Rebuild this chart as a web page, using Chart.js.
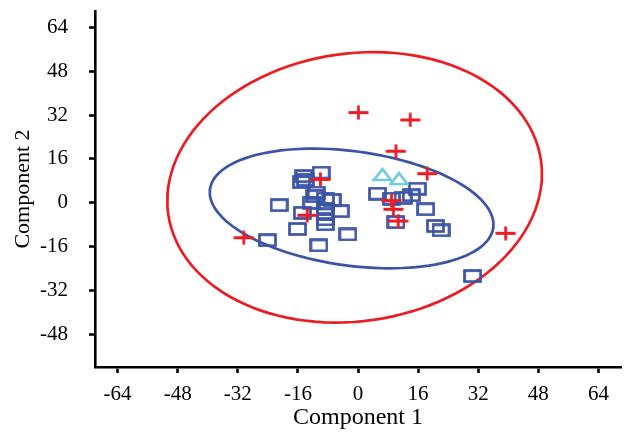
<!DOCTYPE html>
<html>
<head>
<meta charset="utf-8">
<script src="https://cdn.jsdelivr.net/npm/chart.js@4.4.1/dist/chart.umd.min.js"></script>
<style>
  html, body { margin: 0; padding: 0; background: #fff; }
  #wrap { width: 626px; height: 433px; }
</style>
</head>
<body>
<div id="wrap"><canvas id="pcaChart"></canvas></div>
<script>
// Group 1 (blue squares)
const squareX = [-9.8, -14.4, -15, -14, -21, -11.5, -11.1, -8.7, -6.9, -12.3, -4.7, -14.8, -8.7, -8.7, -8.7, -8.7,
                 -16.1, -2.7, -10.4, -24.1, 5.2, 8.9, 12, 14.2, 15.8, 18, 10.1, 20.6, 22.1, 30.5];
const squareY = [11, 9.7, 7.5, 8.4, -0.9, 2.4, 3.7, 1.5, 1, 0, -3.1, -3.7, -2.4, -4.3, -6.1, -7.9,
                 -9.6, -11.6, -15.6, -13.7, 3.3, 1.5, 1.8, 2.7, 5.1, -2.4, -7.1, -8.5, -10.1, -26.8];
// Group 2 (red crosses)
const crossX = [-10, -13.5, -30.4, 0.1, 13.9, 10.1, 18.4, 8.9, 9.4, 10.7, 39.3];
const crossY = [8.5, -4.6, -12.8, 32.9, 30.2, 18.8, 10.6, 0.8, -2.4, -6.7, -11.2];
// Group 3 (cyan triangles)
const triX = [6.5, 10.9];
const triY = [10.3, 8.8];

// Ellipses: centre and two conjugate semi-axis vectors (data units)
const redCentre = [-0.9, 5.6];
const redAxisU = [49.6, 9.8];
const redAxisV = [-5.0, 48.4];
const blueCentre = [-1.7, -2.1];
const blueAxisU = [37.7, -7.0];
const blueAxisV = [2.0, 20.7];

const xTicks = [-64, -48, -32, -16, 0, 16, 32, 48, 64];
const yTicks = [-48, -32, -16, 0, 16, 32, 48, 64];

const BLUE = '#3b54a5';
const RED = '#ec1c24';
const CYAN = '#6fcadb';

const toPoints = (xs, ys) => xs.map((x, i) => ({ x: x, y: ys[i] }));

function ellipse(c, u, v) {
    const pts = [];
    for (let i = 0; i <= 120; i++) {
        const t = i / 120 * Math.PI * 2;
        pts.push({
            x: c[0] + u[0] * Math.cos(t) + v[0] * Math.sin(t),
            y: c[1] + u[1] * Math.cos(t) + v[1] * Math.sin(t)
        });
    }
    return pts;
}

// little marker canvases (rectangles / crosses / triangles are not square)
function marker(w, h, draw) {
    const c = document.createElement('canvas');
    c.width = w; c.height = h;
    draw(c.getContext('2d'));
    return c;
}
const rectMarker = marker(19, 14, g => {
    g.strokeStyle = BLUE; g.lineWidth = 2.7;
    g.strokeRect(1.5, 1.5, 16, 11);
});
const crossMarker = marker(21, 15, g => {
    g.strokeStyle = RED; g.lineWidth = 2.8;
    g.beginPath();
    g.moveTo(0.5, 7.5); g.lineTo(20.5, 7.5);
    g.moveTo(10.5, 0.5); g.lineTo(10.5, 14.5);
    g.stroke();
});
const triMarker = marker(20, 15, g => {
    g.strokeStyle = CYAN; g.lineWidth = 2.7;
    g.beginPath();
    g.moveTo(10, 2); g.lineTo(18.5, 13); g.lineTo(1.5, 13); g.closePath();
    g.stroke();
});

const serif = "'Liberation Serif', 'Times New Roman', serif";

// keep the axis box where the reference has it
function noOverhang(s) {
    s.paddingTop = 0; s.paddingBottom = 0; s.paddingLeft = 0; s.paddingRight = 0;
}

const ctx = document.getElementById('pcaChart').getContext('2d');
new Chart(ctx, {
    type: 'scatter',
    data: {
        datasets: [
            { data: toPoints(triX, triY), pointStyle: triMarker, order: 1 },
            { data: toPoints(crossX, crossY), pointStyle: crossMarker, order: 2 },
            { data: toPoints(squareX, squareY), pointStyle: rectMarker, order: 3 },
            { data: ellipse(blueCentre, blueAxisU, blueAxisV), showLine: true, pointRadius: 0,
              borderColor: BLUE, borderWidth: 2.7, order: 4 },
            { data: ellipse(redCentre, redAxisU, redAxisV), showLine: true, pointRadius: 0,
              borderColor: RED, borderWidth: 2.7, order: 5 }
        ]
    },
    options: {
        responsive: true,
        maintainAspectRatio: false,
        animation: false,
        layout: { padding: { top: 11, right: 1, left: 0, bottom: 0 } },
        plugins: { legend: { display: false }, tooltip: { enabled: false } },
        scales: {
            x: {
                type: 'linear', min: -70, max: 70,
                afterBuildTicks: s => { s.ticks = xTicks.map(v => ({ value: v })); },
                afterFit: s => { s.height = 66; noOverhang(s); },
                border: { display: true, color: '#000', width: 2.6 },
                grid: { drawOnChartArea: false, drawTicks: true, tickLength: 6, tickColor: '#000', tickWidth: 2.6 },
                ticks: { color: '#000', padding: 9, maxRotation: 0, font: { family: serif, size: 21 } },
                title: { display: true, text: 'Component 1', color: '#000', padding: { top: 0, bottom: 1 },
                         font: { family: serif, size: 24 } }
            },
            y: {
                type: 'linear', min: -60, max: 70,
                afterBuildTicks: s => { s.ticks = yTicks.map(v => ({ value: v })); },
                afterFit: s => { s.width = 95; noOverhang(s); },
                border: { display: true, color: '#000', width: 2.6 },
                grid: { drawOnChartArea: false, drawTicks: true, tickLength: 6, tickColor: '#000', tickWidth: 2.6 },
                ticks: { color: '#000', padding: 21, font: { family: serif, size: 21 } },
                title: { display: true, text: 'Component 2', color: '#000', padding: { top: 10, bottom: 0 },
                         font: { family: serif, size: 22 } }
            }
        }
    }
});
</script>
</body>
</html>
